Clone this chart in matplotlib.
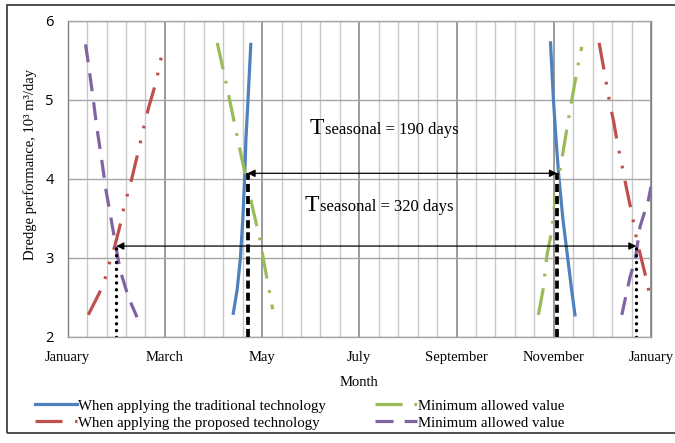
#! /usr/bin/env python
import matplotlib

matplotlib.use("Agg")
import matplotlib.pyplot as plt
from matplotlib.patches import Rectangle

# days of the year (0 = 1 January, 360 = next January)
month_ticks = [0, 60, 120, 180, 240, 300, 360]
month_labels = ["January", "March", "May", "July", "September", "November", "January"]

# traditional technology (blue)
trad_spring_day = [102.2, 104.6, 106.6, 108.1, 109.2, 110.0, 111.3, 113.0]
trad_spring_val = [2.3, 2.6, 3.0, 3.5, 4.0, 4.5, 5.0, 5.7]
trad_autumn_day = [298.0, 299.8, 301.4, 303.0, 305.6, 308.6, 311.0, 313.1]
trad_autumn_val = [5.72, 5.0, 4.5, 4.06, 3.5, 3.0, 2.6, 2.28]

# proposed technology (red)
prop_spring_day = [12.7, 20.6, 23.4, 26.0, 29.2, 32.9, 34.8, 37.4, 39.5, 43.6, 47.7, 50.2, 54.9, 56.5, 58.6]
prop_spring_val = [2.28, 2.6, 2.76, 2.95, 3.16, 3.46, 3.65, 3.84, 4.0, 4.35, 4.72, 4.92, 5.25, 5.43, 5.61]
prop_autumn_day = [328.0, 331.0, 334.3, 337.0, 339.3, 341.0, 343.0, 344.7, 348.1, 351.6, 353.7, 358.0, 359.4]
prop_autumn_val = [5.72, 5.38, 4.99, 4.72, 4.45, 4.28, 4.08, 3.9, 3.57, 3.19, 3.02, 2.66, 2.49]

# minimum allowed value for the traditional technology (green)
min_trad_spring_day = [92.3, 98.1, 105.3, 107.0, 110.5, 114.6, 118.7, 121.8, 124.9, 126.5]
min_trad_spring_val = [5.72, 5.18, 4.47, 4.3, 3.97, 3.59, 3.23, 2.87, 2.53, 2.35]
min_trad_autumn_day = [290.5, 293.6, 295.7, 298.8, 300.8, 304.9, 310.7, 315.2, 317.3]
min_trad_autumn_val = [2.28, 2.62, 3.02, 3.35, 3.73, 4.24, 4.95, 5.46, 5.67]

# minimum allowed value for the proposed technology (purple)
min_prop_spring_day = [11.0, 12.1, 15.8, 17.9, 21.0, 23.6, 28.0, 32.3, 37.5, 42.8]
min_prop_spring_val = [5.7, 5.55, 5.0, 4.66, 4.24, 3.86, 3.35, 2.85, 2.5, 2.25]
min_prop_autumn_day = [342.0, 347.1, 350.2, 353.3, 358.4, 360.0]
min_prop_autumn_val = [2.28, 2.76, 2.97, 3.4, 3.73, 3.9]

# seasonal periods: (start day, end day, performance level)
season_190 = (111.0, 302.0, 4.07)
season_320 = (30.0, 351.0, 3.15)

BLUE, RED, GREEN, PURPLE = "#4F81BD", "#C0504D", "#9BBB59", "#8064A2"
SERIF = ["Liberation Serif", "DejaVu Serif"]

plt.rcParams["lines.scale_dashes"] = False
plt.rcParams["font.family"] = SERIF


def draw_curves(ax):
    lw = 2.3
    green_ls = (0, (19.5, 8.5, 2, 8.5))
    red_ls = (0, (19.5, 9, 2, 9, 2, 9))
    purple_ls = (0, (13, 8))
    ax.plot(trad_spring_day, trad_spring_val, color=BLUE, lw=lw,
            label="When applying the traditional technology")
    ax.plot(trad_autumn_day, trad_autumn_val, color=BLUE, lw=lw)
    ax.plot(prop_spring_day, prop_spring_val, color=RED, lw=lw, ls=red_ls,
            label="When applying the proposed technology")
    ax.plot(prop_autumn_day, prop_autumn_val, color=RED, lw=lw, ls=red_ls)
    ax.plot(min_trad_spring_day, min_trad_spring_val, color=GREEN, lw=lw, ls=green_ls,
            label="Minimum allowed value")
    ax.plot(min_trad_autumn_day, min_trad_autumn_val, color=GREEN, lw=lw, ls=green_ls)
    ax.plot(min_prop_spring_day, min_prop_spring_val, color=PURPLE, lw=lw, ls=purple_ls,
            label="Minimum allowed value")
    ax.plot(min_prop_autumn_day, min_prop_autumn_val, color=PURPLE, lw=lw, ls=purple_ls)


def draw_periods(ax):
    lo = 2
    t0, t1, y = season_190
    for t in (t0, t1):
        ax.plot([t, t], [lo, y], color="white", lw=2.7, solid_capstyle="butt", zorder=4)
        ax.plot([t, t], [lo, y], color="black", lw=2.7, ls=(0, (5.8, 2.9)),
                dash_capstyle="butt", zorder=5)
    ax.annotate("", xy=(t0, y), xytext=(t1, y),
                arrowprops=dict(arrowstyle="<|-|>", color="black", lw=0.9,
                                mutation_scale=11, shrinkA=0, shrinkB=0), zorder=6)
    t0, t1, y2 = season_320
    for t in (t0, t1):
        ax.plot([t, t], [lo, y2], color="black", lw=2.4, ls=(0, (0.1, 4.8)),
                dash_capstyle="round", zorder=5)
    ax.annotate("", xy=(t0, y2), xytext=(t1, y2),
                arrowprops=dict(arrowstyle="<|-|>", color="black", lw=0.9,
                                mutation_scale=11, shrinkA=0, shrinkB=0), zorder=6)

    # "T" is set larger than the rest of the label
    for x, yy, days in ((149.5, 4.57, 190), (146.5, 3.59, 320)):
        ax.text(x, yy, "T", fontsize=17, va="baseline", zorder=7)
        ax.annotate(f"seasonal = {days} days", xy=(x, yy), xytext=(10.6, 0),
                    textcoords="offset points", fontsize=12, va="baseline",
                    ha="left", zorder=7)


def main():
    fig = plt.figure(figsize=(6.75, 4.43), dpi=100)
    ax = fig.add_axes([0.1003, 0.2393, 0.8641, 0.7140])

    ax.set_xlim(0, 360)
    ax.set_ylim(2, 6)
    ax.set_xticks(month_ticks)
    ax.set_xticklabels(month_labels, fontsize=10.5)
    ax.set_xticks(range(0, 361, 12), minor=True)
    ax.set_yticks([2, 3, 4, 5, 6])
    ax.set_yticklabels(["2", "3", "4", "5", "6"], fontsize=10.5,
                       family=["Open Sans", "DejaVu Sans"])
    ax.tick_params(which="both", length=0)
    ax.tick_params(axis="x", pad=10)
    ax.tick_params(axis="y", pad=10)
    ax.grid(axis="x", which="major", color="#808080", lw=1.1)
    ax.grid(axis="x", which="minor", color="#c8c8c8", lw=1.0)
    ax.grid(axis="y", which="major", color="#a6a6a6", lw=1.0)
    ax.set_axisbelow(True)
    for side, sp in ax.spines.items():
        sp.set_color("#a6a6a6" if side in ("top", "bottom") else "#808080")
        sp.set_linewidth(1.0)

    draw_curves(ax)
    draw_periods(ax)

    ax.set_xlabel("Month", fontsize=10.5, labelpad=9)
    ax.set_ylabel("Dredge performance, 10³ m³/day", fontsize=10.5)
    ax.yaxis.set_label_coords(-0.053, 0.545)

    fig.legend(loc="upper left", bbox_to_anchor=(0.052, 0.099), ncol=2,
               frameon=False, fontsize=10.7, handlelength=2.8, handletextpad=0.1,
               columnspacing=3.3, labelspacing=0.25, borderaxespad=0, borderpad=0)
    fig.add_artist(Rectangle((0.0104, 0.0226), 1.0, 0.9661, transform=fig.transFigure,
                             fill=False, edgecolor="#404040", lw=1.3))

    fig.savefig("out.png", dpi=100)


if __name__ == "__main__":
    main()
